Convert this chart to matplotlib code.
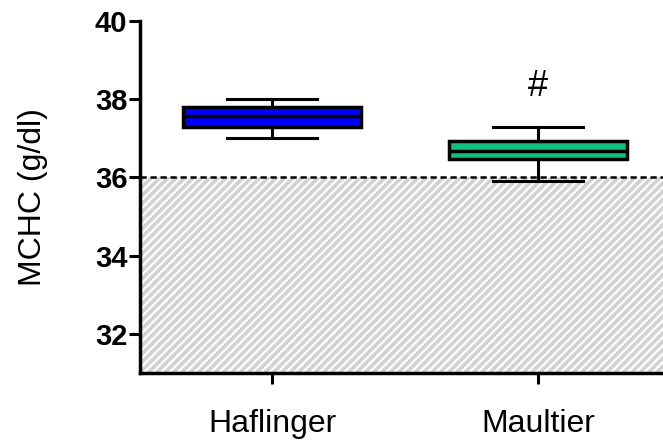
import matplotlib
matplotlib.use("Agg")
from matplotlib import pyplot as plt

# MCHC box plots, Haflinger vs. Maultier
groups = ["Haflinger", "Maultier"]
whisker_low = [37.0, 35.9]
q1 = [37.3, 36.47]
median = [37.58, 36.67]
q3 = [37.8, 36.93]
whisker_high = [38.0, 37.3]
colors = ["#0000ff", "#10c080"]
ref_low, ref_high = 31, 36
marks = {"Maultier": "#"}

plt.rcParams["font.family"] = ["Liberation Sans", "DejaVu Sans"]
plt.rcParams["hatch.linewidth"] = 1.6
plt.rcParams["hatch.color"] = "white"

fig = plt.figure(figsize=(6.63, 4.46), dpi=100)
ax = fig.add_axes([0.211, 0.1637, 0.789, 0.789])

pos = list(range(1, len(groups) + 1))
stats = [dict(med=median[i], q1=q1[i], q3=q3[i], whislo=whisker_low[i],
              whishi=whisker_high[i], fliers=[], label=groups[i])
         for i in range(len(groups))]

xmin, xmax = 0.503, 2.47

# reference range shading below the cut-off
ax.fill_between([xmin, xmax], ref_low, ref_high, facecolor="#d2d2d2",
                hatch="////", edgecolor="white", linewidth=0, zorder=0)
ax.axhline(ref_high, color="black", linestyle=(0, (2.5, 1.5)), linewidth=1.8, zorder=1)

bp = ax.bxp(stats, positions=pos, widths=0.67, patch_artist=True,
            showfliers=False,
            boxprops=dict(linewidth=2.5, edgecolor="black"),
            medianprops=dict(color="black", linewidth=2.5),
            whiskerprops=dict(color="black", linewidth=2.2),
            capprops=dict(color="black", linewidth=2.2),
            capwidths=0.34, zorder=3)
for patch, c in zip(bp["boxes"], colors):
    patch.set_facecolor(c)

for i, g in enumerate(groups):
    if g in marks:
        ax.text(pos[i], whisker_high[i] + 1.03, marks[g], ha="center",
                va="center", fontsize=26)

ax.set_xlim(xmin, xmax)
ax.set_ylim(ref_low, 40)
ax.set_yticks([32, 34, 36, 38, 40])
ax.set_xticks(pos)
ax.set_xticklabels(groups, fontsize=23)
for lbl in ax.get_yticklabels():
    lbl.set_fontsize(21)
    lbl.set_fontweight("bold")
ax.tick_params(axis="both", direction="out", length=8, width=2.2)
ax.tick_params(axis="x", pad=18)
ax.tick_params(axis="y", pad=1)
ax.set_ylabel("MCHC (g/dl)", fontsize=23, labelpad=34)

ax.spines["top"].set_visible(False)
ax.spines["right"].set_visible(False)
ax.spines["left"].set_linewidth(2.5)
ax.spines["bottom"].set_linewidth(2.5)

fig.savefig("out.png", dpi=100)
